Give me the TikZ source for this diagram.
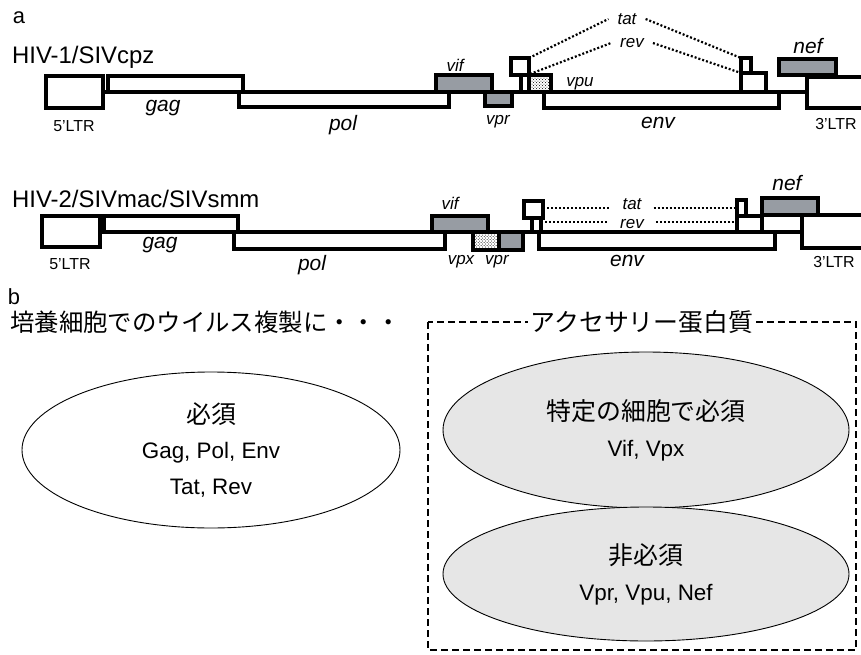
\documentclass[tikz,border=0pt]{standalone}
\usepackage{fontspec}
\setmainfont{Liberation Sans}
\newfontfamily\jpfont{Noto Sans CJK JP}
\usepackage{tikz}
\usetikzlibrary{shapes.geometric,patterns,positioning}
\definecolor{geneGray}{HTML}{979CA3}
\definecolor{accFill}{HTML}{E6E6E6}
\newcommand{\fs}[1]{\fontsize{#1}{#1}\selectfont}

\begin{document}
\begin{tikzpicture}[x=1bp,y=-1bp,every node/.style={inner sep=0pt},
  exon/.style={draw,line width=3.2bp,fill=white},
  accgene/.style={exon,fill=geneGray},
  dotgene/.style={draw,line width=3.2bp,pattern=crosshatch dots},
  spine/.style={line width=4.2bp},
  splice/.style={dash pattern=on 2bp off 2bp,line width=2.2bp},
  glab/.style={font=\fs{21}\itshape},
  slab/.style={font=\fs{17}\itshape},
  ltrlab/.style={font=\fs{16}},
  virus/.style={font=\fs{24},anchor=base west},
  blob/.style={ellipse,draw,line width=0.9bp,align=center,font=\fontsize{22.5}{36}\selectfont}]
  \useasboundingbox (0,0) rectangle (861,655);

  % --- a: HIV-1/SIVcpz
  \node[font=\fs{22}] (lbla) at (19,18) {a};
  \node[virus] (hiv1) at (12,64) {HIV-1/SIVcpz};
  \draw[spine] (103,92) -- (807,92);
  \draw[exon] (46,76) rectangle (103,108);
  \draw[exon] (108,76) rectangle (243,92);
  \draw[exon] (239,92) rectangle (449,107);
  \draw[accgene] (436,75) rectangle (492,92);
  \draw[accgene] (485,92) rectangle (512,106);
  \draw[exon] (511,58) rectangle (529,75);
  \draw[exon] (521,75) rectangle (529,92);
  \draw[dotgene] (529,75) rectangle (551,92);
  \draw[exon] (544,92) rectangle (779,108);
  \draw[exon] (741,58) rectangle (751,73);
  \draw[exon] (741,73) rectangle (766,92);
  \draw[exon] (807,77) rectangle (864,108);
  \draw[accgene] (779,59) rectangle (836,75);
  \coordinate (tatA1) at (529,58);
  \coordinate (tatB1) at (741,58);
  \coordinate (revA1) at (530,74);
  \coordinate (revB1) at (741,73);
  \node[slab,inner xsep=9bp] (tat1) at (627,19) {tat};
  \node[slab,inner xsep=9bp] (rev1) at (632,43) {rev};
  \draw[splice] (tatA1) -- (tat1.west);
  \draw[splice] (tat1.east) -- (tatB1);
  \draw[splice] (revA1) -- (rev1.west);
  \draw[splice] (rev1.east) -- (revB1);
  \node[ltrlab] (ltrL1) at (74,126) {5'LTR};
  \node[glab] (gag1) at (163,108) {gag};
  \node[glab] (pol1) at (343,125) {pol};
  \node[slab] (vif1) at (455,65) {vif};
  \node[slab] (vpr1) at (498,122) {vpr};
  \node[slab] (vpu1) at (580,84) {vpu};
  \node[glab] (env1) at (658,123) {env};
  \node[glab] (nef1) at (808,46) {nef};
  \node[ltrlab] (ltrR1) at (836,124) {3'LTR};

  % --- a: HIV-2/SIVmac/SIVsmm
  \node[virus] (hiv2) at (12,207) {HIV-2/SIVmac/SIVsmm};
  \draw[spine] (100,232) -- (802,232);
  \draw[exon] (42,216) rectangle (100,247);
  \draw[exon] (104,216) rectangle (238,232);
  \draw[exon] (234,232) rectangle (445,249);
  \draw[accgene] (432,216) rectangle (488,232);
  \draw[dotgene] (473,232) rectangle (499,250);
  \draw[accgene] (499,232) rectangle (523,250);
  \draw[exon] (524,201) rectangle (543,218);
  \draw[exon] (532,218) rectangle (541,232);
  \draw[exon] (539,232) rectangle (775,249);
  \draw[exon] (737,200) rectangle (746,216);
  \draw[exon] (737,216) rectangle (762,232);
  \draw[exon] (762,215) rectangle (802,232);
  \draw[exon] (802,215) rectangle (864,248);
  \draw[accgene] (762,198) rectangle (818,215);
  \coordinate (tatA2) at (543,208);
  \coordinate (tatB2) at (737,208);
  \coordinate (revA2) at (541,222);
  \coordinate (revB2) at (737,222);
  \node[slab,inner xsep=12bp] (tat2) at (632,204) {tat};
  \node[slab,inner xsep=12bp] (rev2) at (632,224) {rev};
  \draw[splice] (tatA2) -- (tatA2 -| tat2.west);
  \draw[splice] (tatB2 -| tat2.east) -- (tatB2);
  \draw[splice] (revA2) -- (revA2 -| rev2.west);
  \draw[splice] (revB2 -| rev2.east) -- (revB2);
  \node[ltrlab] (ltrL2) at (70,264) {5'LTR};
  \node[glab] (gag2) at (160,245) {gag};
  \node[glab] (pol2) at (312,265) {pol};
  \node[slab] (vif2) at (450,203) {vif};
  \node[slab] (vpx2) at (461,262) {vpx};
  \node[slab] (vpr2) at (497,262) {vpr};
  \node[glab] (env2) at (627,261) {env};
  \node[glab] (nef2) at (787,183) {nef};
  \node[ltrlab] (ltrR2) at (834,262) {3'LTR};

  % --- b
  \node[font=\fs{22}] (lblb) at (14,297) {b};
  \node[font=\jpfont\fs{24.5},anchor=west] (repl) at (10,322) {培養細胞でのウイルス複製に・・・};
  \draw[dash pattern=on 7bp off 4bp,line width=1.5bp] (428,322) rectangle (856,650);
  \node[fill=white,inner xsep=3bp,inner ysep=2bp,font=\jpfont\fs{25}] (accs) at (642,322) {アクセサリー蛋白質};
  \node[blob,fill=white,minimum width=378bp,minimum height=156bp] (ess) at (211,450)
    {{\jpfont\fontsize{25}{36}\selectfont 必須}\\Gag, Pol, Env\\Tat, Rev};
  \node[blob,fill=accFill,minimum width=406bp,minimum height=156bp] (cellspec) at (646,430)
    {{\jpfont\fontsize{25}{36}\selectfont 特定の細胞で必須}\\Vif, Vpx};
  \node[blob,fill=accFill,minimum width=406bp,minimum height=134bp] (noness) at (646,574)
    {{\jpfont\fontsize{25}{36}\selectfont 非必須}\\Vpr, Vpu, Nef};
\end{tikzpicture}
\end{document}
